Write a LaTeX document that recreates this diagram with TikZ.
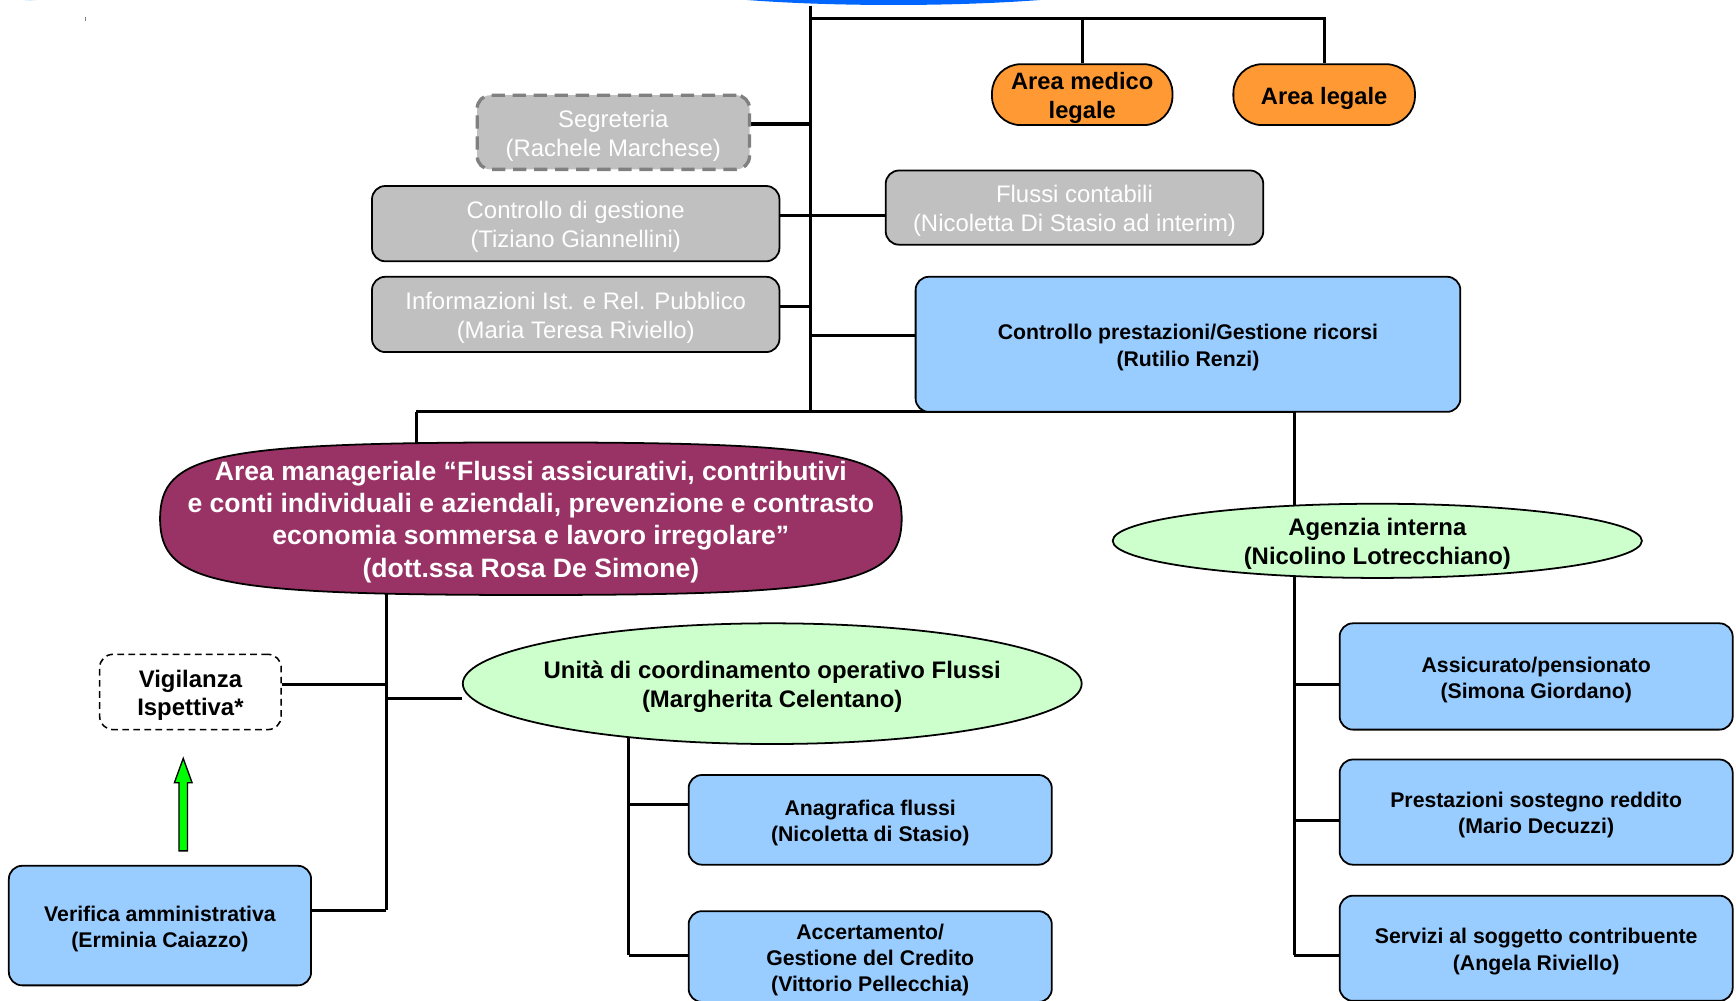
\documentclass[tikz,border=0pt]{standalone}
\usepackage{fontspec}
\setmainfont{Liberation Sans}
\usetikzlibrary{shapes.geometric,calc}
\pgfdeclarelayer{bg}
\pgfdeclarelayer{mid}
\pgfsetlayers{bg,mid,main}
\definecolor{bluebox}{HTML}{99CCFF}
\definecolor{greenell}{HTML}{CCFFCC}
\definecolor{maroon}{HTML}{993366}
\definecolor{orangebox}{HTML}{FF9933}
\definecolor{graybox}{HTML}{C0C0C0}
\definecolor{dashgray}{HTML}{808080}
\definecolor{topblue}{HTML}{0066FF}
\definecolor{arrgreen}{HTML}{00FF00}
\tikzset{
  blk/.style={draw=black, line width=0.8pt, rounded corners=6pt, inner sep=0pt},
  bluestyle/.style={blk, fill=bluebox},
  graystyle/.style={blk, fill=graybox},
  orangestyle/.style={blk, fill=orangebox, rounded corners=13pt},
  ellstyle/.style={ellipse, draw=black, line width=0.8pt, inner sep=0pt},
  txt/.style={align=center, inner sep=0pt, yshift=-1.5pt},
  bluetext/.style={txt, font=\bfseries\fontsize{9.6}{11.8}\selectfont},
  graytext/.style={txt, text=white, font=\fontsize{10.8}{13}\selectfont},
  boldtext/.style={txt, font=\bfseries\fontsize{10.8}{13}\selectfont},
  conn/.style={draw=black, line width=1.4pt},
}
\begin{document}
\begin{tikzpicture}[x=0.5pt, y=-0.5pt]
\useasboundingbox (0,0) rectangle (1568,904);
% decorative top elements
\fill[topblue] (807,-20) ellipse [x radius=229, y radius=24.5];
\fill[bluebox!60] (27,-6) ellipse [x radius=16, y radius=6.5];
\draw[gray, line width=0.6pt] (77,15) -- (77,19);

% top nodes
\node[orangestyle, minimum width=81.5pt, minimum height=27.5pt,
  label={[boldtext, font=\bfseries\fontsize{10.7}{13}\selectfont]center:{Area medico\\legale}}] (med) at (977.5,85.5) {};
\node[orangestyle, minimum width=82pt, minimum height=27.5pt,
  label={[boldtext, font=\bfseries\fontsize{10.7}{13}\selectfont]center:{Area legale}}] (leg) at (1196,85.5) {};
\node[blk, fill=graybox, draw=dashgray, dash pattern=on 6pt off 3.5pt, line width=1.5pt, minimum width=123pt, minimum height=33.5pt,
  label={[graytext]center:{Segreteria\\(Rachele Marchese)}}] (seg) at (554,119.5) {};
\node[graystyle, minimum width=184pt, minimum height=34pt,
  label={[graytext]center:{Controllo di gestione\\(Tiziano Giannellini)}}] (cdg) at (520,202) {};
\node[graystyle, minimum width=170.5pt, minimum height=33.5pt,
  label={[graytext]center:{Flussi contabili\\(Nicoletta Di Stasio ad interim)}}] (flu) at (970.5,187.5) {};
\node[graystyle, minimum width=184pt, minimum height=34pt,
  label={[graytext]center:{Informazioni Ist. e Rel. Pubblico\\(Maria Teresa Riviello)}}] (inf) at (520,284) {};
\node[bluestyle, minimum width=246pt, minimum height=61pt,
  label={[bluetext, font=\bfseries\fontsize{9.6}{12}\selectfont]center:{Controllo prestazioni/Gestione ricorsi\\(Rutilio Renzi)}}] (cp) at (1073,311) {};

% middle
\node[inner sep=0pt, minimum width=334.5pt, minimum height=68.5pt,
  label={[txt, text=white, font=\bfseries\fontsize{12}{14.5}\selectfont]center:{Area manageriale “Flussi assicurativi, contributivi\\e conti individuali e aziendali, prevenzione e contrasto\\economia sommersa e lavoro irregolare”\\(dott.ssa Rosa De Simone)}}] (am) at (479.5,468.5) {};
\node[ellstyle, fill=greenell, minimum width=239pt, minimum height=33.5pt,
  label={[boldtext]center:{Agenzia interna\\(Nicolino Lotrecchiano)}}] (ag) at (1244,488.5) {};

% left branch
\node[blk, fill=white, line width=0.7pt, dash pattern=on 3pt off 2pt, minimum width=82pt, minimum height=34pt,
  label={[boldtext]center:{Vigilanza\\Ispettiva*}}] (vig) at (172,625) {};
\node[bluestyle, minimum width=136.5pt, minimum height=54pt,
  label={[bluetext, font=\bfseries\fontsize{9.6}{12}\selectfont]center:{Verifica amministrativa\\(Erminia Caiazzo)}}] (ver) at (144.5,836) {};
\node[ellstyle, fill=greenell, minimum width=279.5pt, minimum height=54.5pt,
  label={[boldtext]center:{Unità di coordinamento operativo Flussi\\(Margherita Celentano)}}] (un) at (697.5,617.5) {};
\node[bluestyle, minimum width=164pt, minimum height=40.5pt,
  label={[bluetext]center:{Anagrafica flussi\\(Nicoletta di Stasio)}}] (ana) at (786,740.5) {};
\node[bluestyle, minimum width=164pt, minimum height=41pt,
  label={[bluetext]center:{Accertamento/\\Gestione del Credito\\(Vittorio Pellecchia)}}] (acc) at (786,864) {};

% right branch
\node[bluestyle, minimum width=177.5pt, minimum height=48pt,
  label={[bluetext]center:{Assicurato/pensionato\\(Simona Giordano)}}] (ass) at (1387.5,611) {};
\node[bluestyle, minimum width=177.5pt, minimum height=47.5pt,
  label={[bluetext]center:{Prestazioni sostegno reddito\\(Mario Decuzzi)}}] (pre) at (1387.5,733.5) {};
\node[bluestyle, minimum width=177.5pt, minimum height=47.5pt,
  label={[bluetext]center:{Servizi al soggetto contribuente\\(Angela Riviello)}}] (ser) at (1387.5,856.5) {};

% maroon rounded oval drawn from the node's anchors
\begin{pgfonlayer}{mid}
\path[draw=black, line width=0.8pt, fill=maroon]
  (am.east) .. controls ($(am.east)!0.85!(am.north east)$) and ($(am.north)!0.85!(am.north east)$) .. (am.north)
  .. controls ($(am.north)!0.85!(am.north west)$) and ($(am.west)!0.85!(am.north west)$) .. (am.west)
  .. controls ($(am.west)!0.85!(am.south west)$) and ($(am.south)!0.85!(am.south west)$) .. (am.south)
  .. controls ($(am.south)!0.85!(am.south east)$) and ($(am.east)!0.85!(am.south east)$) .. (am.east) -- cycle;
\end{pgfonlayer}

% junction coordinates
\coordinate (t0) at (732,5);
\coordinate (t1) at (732,17);
\coordinate (tS) at (732,112);
\coordinate (tC) at (732,195);
\coordinate (tI) at (732,277);
\coordinate (tP) at (732,303);
\coordinate (tB) at (732,372);
\coordinate (hL) at (376,372);
\coordinate (hR) at (1169,372);
\coordinate (aV) at (349,618);
\coordinate (aU) at (349,631);
\coordinate (aR) at (349,822);
\coordinate (uA) at (568,727);
\coordinate (uB) at (568,863);
\coordinate (gA) at (1169,618);
\coordinate (gP) at (1169,741);
\coordinate (gS) at (1169,863);
\coordinate (arB) at (165.5,768.5);
\coordinate (arT) at (165.5,685);

\begin{pgfonlayer}{bg}
\draw[conn] (t0) -- (tB);
\draw[conn] (t1) -| (leg.north);
\draw[conn] (t1 -| med.north) -- (med.north);
\draw[conn] (seg.east |- tS) -- (tS);
\draw[conn] (cdg.east |- tC) -- (flu.west |- tC);
\draw[conn] (inf.east |- tI) -- (tI);
\draw[conn] (tP) -- (cp.west |- tP);
\draw[conn] (hL) -- (hR);
\draw[conn] (hL) -- (am.center -| hL);
\draw[conn] (aV |- am.center) -- (aR);
\draw[conn] (aV) -- (vig.east |- aV);
\draw[conn] (aU) -- (un.west |- aU);
\draw[conn] (aR) -- (ver.east |- aR);
\draw[conn] (uA |- un.center) -- (uB);
\draw[conn] (uA) -- (ana.west |- uA);
\draw[conn] (uB) -- (acc.west |- uB);
\draw[conn] (hR) -- (gS);
\draw[conn] (gA) -- (ass.west |- gA);
\draw[conn] (gP) -- (pre.west |- gP);
\draw[conn] (gS) -- (ser.west |- gS);
\end{pgfonlayer}

% green arrow
\draw[black, line width=0.6pt, fill=arrgreen]
  ($(arB)+(-3.9,0)$) -- ($(arT)+(-3.9,22)$) -- ($(arT)+(-8,22)$) -- (arT)
  -- ($(arT)+(8,22)$) -- ($(arT)+(3.9,22)$) -- ($(arB)+(3.9,0)$) -- cycle;
\end{tikzpicture}
\end{document}
